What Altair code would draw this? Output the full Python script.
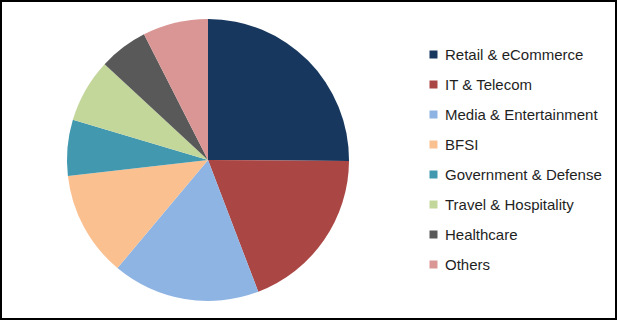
import altair as alt
import pandas as pd

categories = ["Retail & eCommerce", "IT & Telecom", "Media & Entertainment", "BFSI",
              "Government & Defense", "Travel & Hospitality", "Healthcare", "Others"]
shares = [25.1, 19.1, 16.9, 12.1, 6.4, 7.3, 5.6, 7.5]
colors = ["#17375E", "#AA4643", "#8EB4E3", "#FAC090", "#4198AF", "#C4D79B", "#595959", "#D99694"]

df = pd.DataFrame({"segment": categories, "share": shares, "idx": list(range(len(categories)))})

chart = alt.Chart(df).mark_arc(radius=141, stroke=None).encode(
    theta=alt.Theta("share:Q", stack=True),
    order=alt.Order("idx:Q"),
    x=alt.value(208),
    y=alt.value(160),
    color=alt.Color(
        "segment:N",
        scale=alt.Scale(domain=categories, range=colors),
        sort=categories,
        legend=alt.Legend(
            title=None,
            orient="none",
            legendX=426,
            legendY=47,
            symbolType="square",
            symbolSize=64,
            symbolStrokeWidth=0,
            labelFontSize=15,
            labelFont="Liberation Sans",
            labelColor="#1f1f1f",
            labelOffset=4,
            rowPadding=14,
            padding=0,
            labelLimit=300,
        ),
    ),
).properties(
    width=617, height=320, autosize=alt.AutoSizeParams(type="none"), padding=0,
    background="white",
).configure_view(
    stroke="black", strokeWidth=4
)

chart.save("out.html", embed_options={"renderer": "svg", "actions": False})
